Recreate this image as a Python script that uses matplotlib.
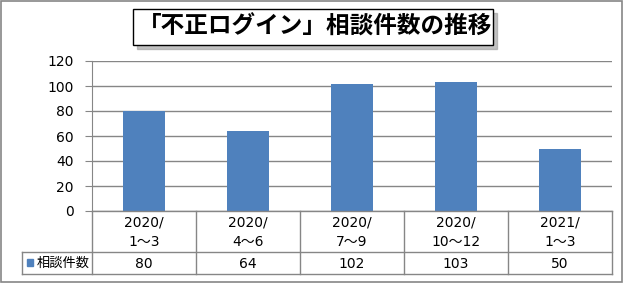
import matplotlib.pyplot as plt
from matplotlib.patches import Rectangle
from matplotlib.lines import Line2D

plt.rcParams['font.family'] = ['DejaVu Sans', 'Noto Sans CJK JP']

# Data
categories = ['2020/\n1～3', '2020/\n4～6', '2020/\n7～9', '2020/\n10～12', '2021/\n1～3']
counts = [80, 64, 102, 103, 50]
series_name = '相談件数'
title = '「不正ログイン」相談件数の推移'
yticks = [0, 20, 40, 60, 80, 100, 120]

W, H = 628, 283
bar_color = '#4F81BD'
line_color = '#868686'
cjk = ['Noto Sans CJK JP', 'DejaVu Sans']

fig = plt.figure(figsize=(W / 100, H / 100), dpi=100)


def px(x, y):
    # pixel (from top-left) to figure fraction
    return x / W, 1 - y / H


# plot area in pixels
left, right, top, bottom = 92, 612, 61, 211
ax = fig.add_axes([left / W, 1 - bottom / H, (right - left) / W, (bottom - top) / H])

x = list(range(len(categories)))
ax.bar(x, counts, width=0.41, color=bar_color, zorder=3)
ax.set_xlim(-0.5, len(categories) - 0.5)
ax.set_ylim(0, 120)
ax.set_yticks(yticks)
ax.set_yticklabels([str(v) for v in yticks], fontsize=10)
ax.set_xticks([])
ax.yaxis.grid(True, color=line_color, linewidth=1)
ax.set_axisbelow(True)
for s in ['top', 'right', 'bottom']:
    ax.spines[s].set_visible(False)
ax.spines['left'].set_color(line_color)
ax.tick_params(axis='y', length=5, color=line_color, pad=8)

# data table under the plot
row1, row2 = 252, 274
legend_left = 22
col_w = (right - left) / len(categories)


def hline(x0, x1, y):
    (a, b), (c, d) = px(x0, y), px(x1, y)
    fig.add_artist(Line2D([a, c], [b, d], color=line_color, lw=1))


def vline(xp, y0, y1):
    (a, b), (c, d) = px(xp, y0), px(xp, y1)
    fig.add_artist(Line2D([a, c], [b, d], color=line_color, lw=1))


hline(left, right, bottom)
hline(legend_left, right, row1)
hline(legend_left, right, row2)
vline(legend_left, row1, row2)
for i in range(len(categories) + 1):
    vline(left + i * col_w, bottom, row2)

for i, (cat, val) in enumerate(zip(categories, counts)):
    cx = left + (i + 0.5) * col_w
    fx, fy = px(cx, (bottom + row1) / 2 + 1)
    fig.text(fx, fy, cat, ha='center', va='center', fontsize=10, linespacing=1.5)
    fx, fy = px(cx, (row1 + row2) / 2 + 1)
    fig.text(fx, fy, str(val), ha='center', va='center', fontsize=10)

# legend key in the table
kx, ky = px(27, 266)
fig.add_artist(Rectangle((kx, ky), 6 / W, 7 / H, transform=fig.transFigure,
                         color=bar_color))
fx, fy = px(37, (row1 + row2) / 2)
fig.text(fx, fy, series_name, ha='left', va='center', fontsize=9.5, family=cjk)

# title box with shadow
bx0, by0, bx1, by1 = 133, 9, 493, 45
sx, sy = px(bx0 + 4, by1 + 4)
fig.add_artist(Rectangle((sx, sy), (bx1 - bx0) / W, (by1 - by0) / H,
                         transform=fig.transFigure, color='#9a9a9a', alpha=0.6))
tx, ty = px(bx0, by1)
fig.add_artist(Rectangle((tx, ty), (bx1 - bx0) / W, (by1 - by0) / H,
                         transform=fig.transFigure, facecolor='white',
                         edgecolor='black', lw=1))
fx, fy = px((bx0 + bx1) / 2 + 2, (by0 + by1) / 2)
fig.text(fx, fy, title, ha='center', va='center', fontsize=17, fontweight='bold',
         family=cjk)

# outer frame
ox, oy = px(1, 282)
fig.add_artist(Rectangle((ox, oy), 621 / W, 281 / H, transform=fig.transFigure,
                         fill=False, edgecolor=line_color, lw=1.2))

plt.savefig('out.png', dpi=100)
